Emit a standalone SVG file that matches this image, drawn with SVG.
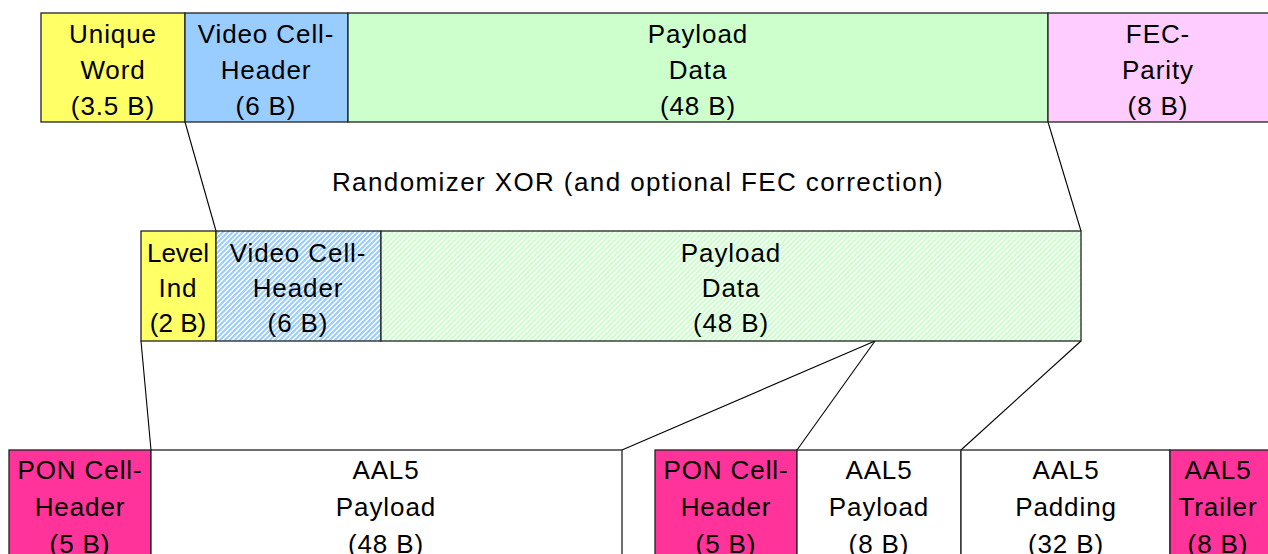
<svg xmlns="http://www.w3.org/2000/svg" width="1268" height="554" viewBox="0 0 1268 554">
<style>
.b{stroke:#222;stroke-width:1.3}
.t{font-family:"Liberation Sans",Arial,sans-serif;font-size:26px;fill:#000;text-anchor:middle;letter-spacing:0.9px}
.c{fill:none;stroke:#000;stroke-width:1.1}
</style>
<defs>
<pattern id="hb" width="5" height="5" patternUnits="userSpaceOnUse">
<rect width="5" height="5" fill="#fff"/>
<path d="M-1,1 l2,-2 M0,5 l5,-5 M4,6 l2,-2" stroke="#99CCFF" stroke-width="2"/>
</pattern>
<pattern id="hg" width="5" height="5" patternUnits="userSpaceOnUse">
<rect width="5" height="5" fill="#fff"/>
<path d="M-1,1 l2,-2 M0,5 l5,-5 M4,6 l2,-2" stroke="#CCFFCC" stroke-width="2"/>
</pattern>
</defs>
<g id="connectors">
<line class="c" x1="185" y1="122" x2="216" y2="231"/>
<line class="c" x1="1048" y1="122" x2="1081" y2="231"/>
<line class="c" x1="141" y1="341" x2="151" y2="450"/>
<line class="c" x1="875" y1="341" x2="622" y2="450"/>
<line class="c" x1="875" y1="341" x2="797" y2="450"/>
<line class="c" x1="1081" y1="341" x2="961" y2="450"/>
</g>
<g id="top-unique-word"><rect class="b" x="41" y="13" width="144" height="109" fill="#FFFF66"/>
<text class="t" x="113" y="43">Unique</text><text class="t" x="113" y="79">Word</text><text class="t" x="113" y="115">(3.5 B)</text></g>
<g id="top-video-header"><rect class="b" x="185" y="13" width="163" height="109" fill="#99CCFF"/>
<text class="t" x="266" y="43">Video Cell-</text><text class="t" x="266" y="79">Header</text><text class="t" x="266" y="115">(6 B)</text></g>
<g id="top-payload"><rect class="b" x="348" y="13" width="700" height="109" fill="#CCFFCC"/>
<text class="t" x="698" y="43">Payload</text><text class="t" x="698" y="79">Data</text><text class="t" x="698" y="115">(48 B)</text></g>
<g id="top-fec"><rect class="b" x="1048" y="13" width="230" height="109" fill="#FFCCFF"/>
<text class="t" x="1158" y="43">FEC-</text><text class="t" x="1158" y="79">Parity</text><text class="t" x="1158" y="115">(8 B)</text></g>
<g id="randomizer-label"><text class="t" x="638" y="191" style="letter-spacing:1.4px">Randomizer XOR (and optional FEC correction)</text></g>
<g id="mid-level"><rect class="b" x="141" y="231" width="75" height="110" fill="#FFFF66"/>
<text class="t" x="178" y="262" style="letter-spacing:0px">Level</text><text class="t" x="178" y="297">Ind</text><text class="t" x="178" y="332" style="letter-spacing:0px">(2 B)</text></g>
<g id="mid-video-header"><rect class="b" x="216" y="231" width="165" height="110" fill="url(#hb)"/>
<text class="t" x="298" y="262">Video Cell-</text><text class="t" x="298" y="297">Header</text><text class="t" x="298" y="332">(6 B)</text></g>
<g id="mid-payload"><rect class="b" x="381" y="231" width="700" height="110" fill="url(#hg)"/>
<text class="t" x="731" y="262">Payload</text><text class="t" x="731" y="297">Data</text><text class="t" x="731" y="332">(48 B)</text></g>
<g id="bot-pon1"><rect class="b" x="9" y="450" width="142" height="115" fill="#FF3399"/>
<text class="t" x="80" y="479">PON Cell-</text><text class="t" x="80" y="516">Header</text><text class="t" x="80" y="553">(5 B)</text></g>
<g id="bot-payload1"><rect class="b" x="151" y="450" width="471" height="115" fill="#fff"/>
<text class="t" x="386" y="479">AAL5</text><text class="t" x="386" y="516">Payload</text><text class="t" x="386" y="553">(48 B)</text></g>
<g id="bot-pon2"><rect class="b" x="655" y="450" width="142" height="115" fill="#FF3399"/>
<text class="t" x="726" y="479">PON Cell-</text><text class="t" x="726" y="516">Header</text><text class="t" x="726" y="553">(5 B)</text></g>
<g id="bot-payload2"><rect class="b" x="797" y="450" width="164" height="115" fill="#fff"/>
<text class="t" x="879" y="479">AAL5</text><text class="t" x="879" y="516">Payload</text><text class="t" x="879" y="553">(8 B)</text></g>
<g id="bot-padding"><rect class="b" x="961" y="450" width="209" height="115" fill="#fff"/>
<text class="t" x="1066" y="479">AAL5</text><text class="t" x="1066" y="516">Padding</text><text class="t" x="1066" y="553">(32 B)</text></g>
<g id="bot-trailer"><rect class="b" x="1170" y="450" width="110" height="115" fill="#FF3399"/>
<text class="t" x="1218" y="479">AAL5</text><text class="t" x="1218" y="516">Trailer</text><text class="t" x="1218" y="553">(8 B)</text></g>
</svg>
